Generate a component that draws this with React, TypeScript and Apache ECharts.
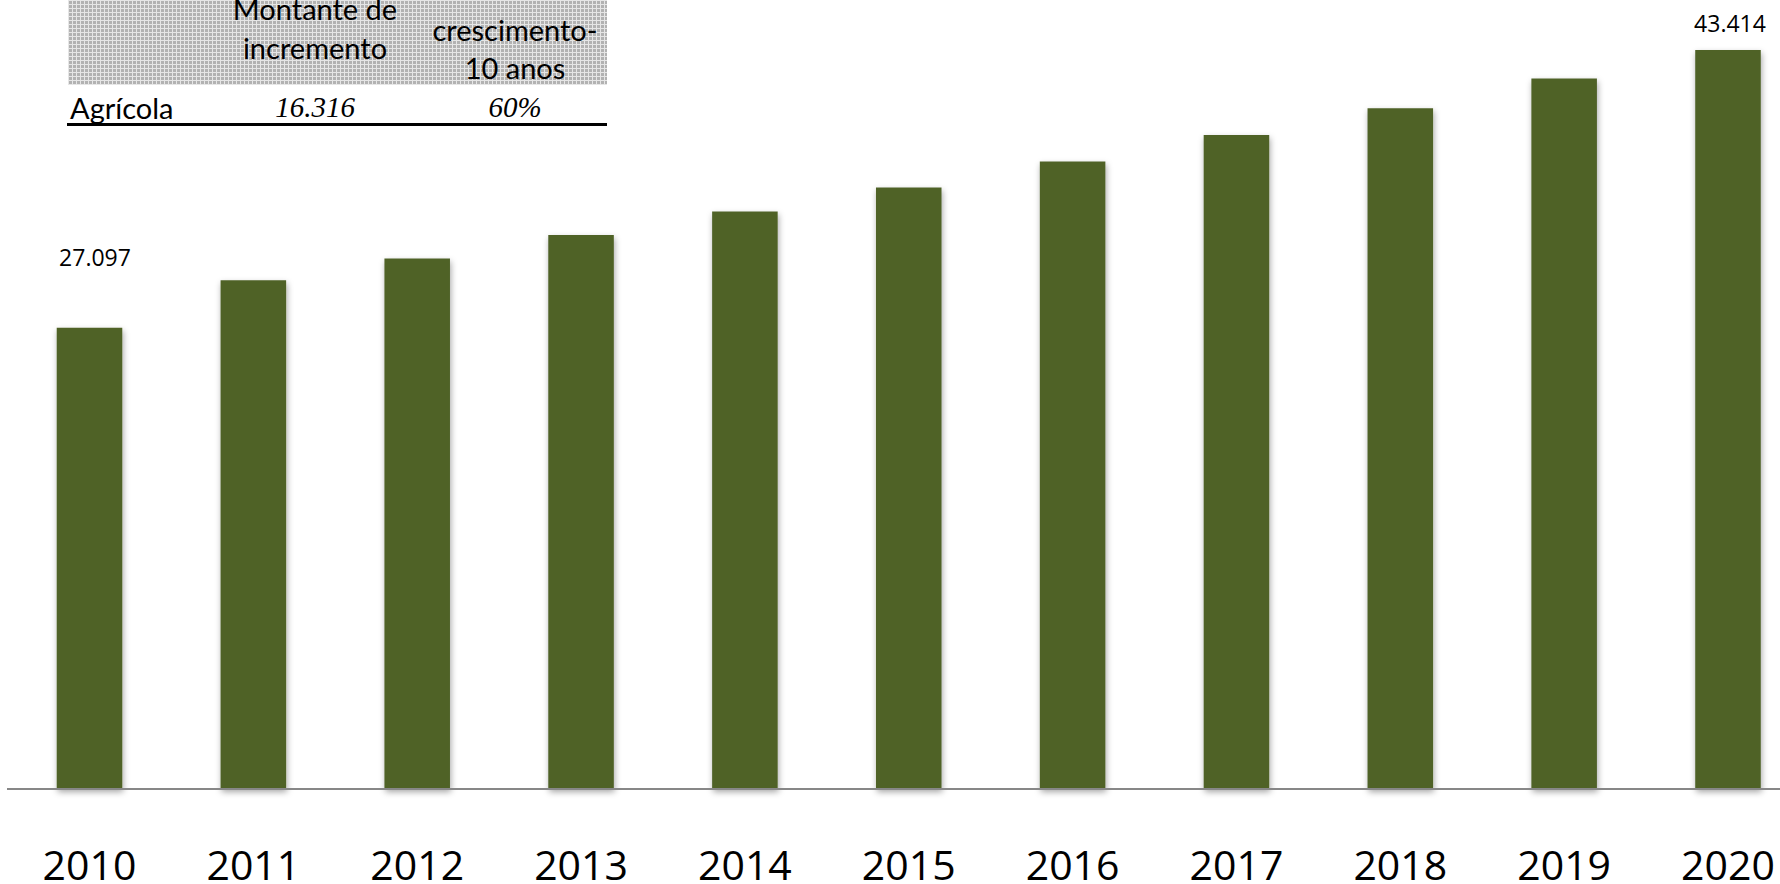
import React, { useEffect, useRef } from "react";
import * as echarts from "echarts";

const years = ["2010", "2011", "2012", "2013", "2014", "2015", "2016", "2017", "2018", "2019", "2020"];
const values = [27097, 29888, 31157, 32550, 33919, 35329, 36857, 38425, 39994, 41733, 43414];
const labelledIndexes = [0, 10];

const tableHeaders = ["Montante de\nincremento", "crescimento-\n10 anos"];
const tableRowName = "Agrícola";
const tableRowValues = ["16.316", "60%"];

const labelOffsets: Record<number, [number, number]> = { 0: [5.5, -54], 10: [2, -10] };

function fmt(v: number): string {
  return String(v).replace(/\B(?=(\d{3})+(?!\d))/g, ".");
}

function makeHatch(): HTMLCanvasElement {
  const c = document.createElement("canvas");
  c.width = 4;
  c.height = 4;
  const ctx = c.getContext("2d")!;
  ctx.fillStyle = "#b2b2b2";
  ctx.fillRect(0, 0, 4, 4);
  ctx.fillStyle = "#e6e6e6";
  ctx.fillRect(0, 0, 4, 1);
  ctx.fillRect(0, 0, 1, 4);
  return c;
}

export default function App() {
  const ref = useRef<HTMLDivElement>(null);
  useEffect(() => {
    if (!ref.current) return;
    const chart = echarts.init(ref.current, null, { renderer: "svg" });
    const sans = "Lato, 'Noto Sans', sans-serif";
    const axisFont = "'Open Sans', 'Noto Sans', sans-serif";
    const colCenters = [315, 515];
    const baseY = 789;
    const option: any = {
      animation: false,
      backgroundColor: "#ffffff",
      grid: { left: 89.5, width: 1638.5, top: 40, bottom: 884 - baseY, containLabel: false },
      xAxis: {
        type: "category",
        data: years,
        boundaryGap: false,
        axisLine: { show: false },
        axisTick: { show: false },
        axisLabel: {
          fontFamily: axisFont,
          fontSize: 41,
          lineHeight: 30,
          color: "#000000",
          margin: 59.5,
          interval: 0,
        },
      },
      yAxis: { type: "value", min: 0, max: 44000, show: false, splitLine: { show: false } },
      series: [
        {
          type: "bar",
          barWidth: "40%",
          data: values.map((v, i) => ({
            value: v,
            label: labelledIndexes.includes(i)
              ? { show: true, offset: labelOffsets[i] }
              : { show: false },
          })),
          itemStyle: {
            color: "#4f6228",
            shadowBlur: 6,
            shadowOffsetX: 1,
            shadowOffsetY: 3,
            shadowColor: "rgba(0,0,0,0.35)",
          },
          label: {
            position: "top",
            distance: 5,
            fontFamily: axisFont,
            fontSize: 23,
            lineHeight: 24,
            color: "#000000",
            formatter: (p: any) => fmt(p.value),
          },
        },
      ],
      graphic: [
        {
          type: "line",
          shape: { x1: 7, y1: baseY, x2: 1780, y2: baseY },
          style: { stroke: "#878787", lineWidth: 2 },
          z: 100,
        },
        {
          type: "rect",
          shape: { x: 68, y: 0, width: 539, height: 85 },
          style: { fill: { image: makeHatch(), repeat: "repeat" } as any },
          silent: true,
        },
        {
          type: "text",
          x: colCenters[0],
          y: 27.5,
          style: {
            text: tableHeaders[0],
            font: `29px ${sans}`,
            fill: "#000",
            align: "center",
            verticalAlign: "middle",
            lineHeight: 39,
          },
        },
        {
          type: "text",
          x: colCenters[1],
          y: 48,
          style: {
            text: tableHeaders[1],
            font: `29px ${sans}`,
            fill: "#000",
            align: "center",
            verticalAlign: "middle",
            lineHeight: 38,
          },
        },
        {
          type: "text",
          x: 70,
          y: 107,
          style: {
            text: tableRowName,
            font: `29px ${sans}`,
            fill: "#000",
            align: "left",
            verticalAlign: "middle",
          },
        },
        ...tableRowValues.map((t, i) => ({
          type: "text",
          x: colCenters[i],
          y: 107,
          style: {
            text: t,
            font: `italic 29px 'Liberation Serif', 'Times New Roman', serif`,
            fill: "#000",
            align: "center",
            verticalAlign: "middle",
          },
        })),
        {
          type: "line",
          shape: { x1: 67, y1: 124.5, x2: 607, y2: 124.5 },
          style: { stroke: "#000", lineWidth: 3 },
        },
      ],
    };
    chart.setOption(option);
    return () => chart.dispose();
  }, []);
  return <div ref={ref} style={{ width: 1780, height: 884, position: "absolute", left: 0, top: 0 }} />;
}
